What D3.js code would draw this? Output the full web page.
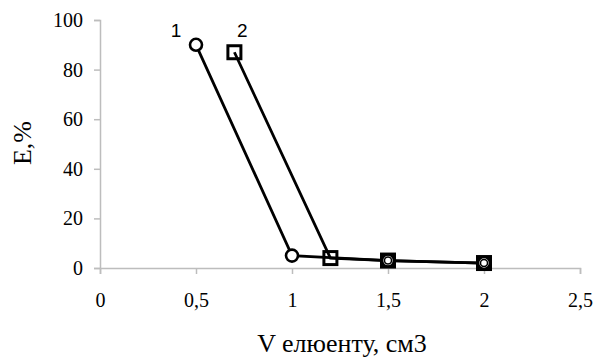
<!DOCTYPE html>
<html>
<head>
<meta charset="utf-8">
<script src="https://cdn.jsdelivr.net/npm/d3@7"></script>
<style>
  body { margin: 0; background: #fff; }
  svg text { font-family: "Liberation Serif", "Times New Roman", serif; fill: #000; }
  .tick text { font-family: "Liberation Serif", serif !important; font-size: 20px !important; }
  .lbl { font-family: "Liberation Sans", Arial, sans-serif !important; font-size: 19px; }
</style>
</head>
<body>
<svg id="chart" width="596" height="358"></svg>
<script>
// data
var xTicks = [0, 0.5, 1, 1.5, 2, 2.5];
var yTicks = [0, 20, 40, 60, 80, 100];
var series1X = [0.5, 1, 1.5, 2];
var series1Y = [90, 5, 3, 2];
var series2X = [0.7, 1.2, 1.5, 2];
var series2Y = [87, 4, 3, 2];
var seriesNames = ["1", "2"];

var svg = d3.select("#chart");
var x = d3.scaleLinear().domain([0, 2.5]).range([100, 580]);
var y = d3.scaleLinear().domain([0, 100]).range([268, 20]);
var fmt = function(d) { return String(d).replace(".", ","); };

// y axis
var yAxis = svg.append("g")
  .attr("transform", "translate(100,0)")
  .call(d3.axisLeft(y).tickValues(yTicks).tickSize(6).tickPadding(11));

// x axis
var xAxis = svg.append("g")
  .attr("transform", "translate(0,268)")
  .call(d3.axisBottom(x).tickValues(xTicks).tickFormat(fmt).tickSize(6).tickPadding(19));

yAxis.attr("font-family", "Liberation Serif").attr("font-size", 20);
xAxis.attr("font-family", "Liberation Serif").attr("font-size", 20);
svg.selectAll(".tick text").attr("fill", "#000");

svg.selectAll(".domain, .tick line").attr("stroke", "#bdbdbd").attr("stroke-width", 1.5);

// titles
svg.append("text")
  .attr("transform", "translate(31,143) rotate(-90)")
  .attr("text-anchor", "middle")
  .style("font-size", "26px")
  .text("E,%");
svg.append("text")
  .attr("x", 342).attr("y", 352)
  .attr("text-anchor", "middle")
  .style("font-size", "26px")
  .text("V елюенту, см3");

var line = d3.line().x(function(d) { return x(d[0]); }).y(function(d) { return y(d[1]); });
var pts1 = series1X.map(function(v, i) { return [v, series1Y[i]]; });
var pts2 = series2X.map(function(v, i) { return [v, series2Y[i]]; });

[pts1, pts2].forEach(function(pts) {
  svg.append("path")
    .attr("d", line(pts))
    .attr("fill", "none")
    .attr("stroke", "#000")
    .attr("stroke-width", 2.8);
});

// markers
svg.selectAll("circle.s1")
  .data(pts1)
  .enter()
  .append("circle")
  .attr("cx", function(d) { return x(d[0]); })
  .attr("cy", function(d) { return y(d[1]); })
  .attr("r", 6)
  .attr("fill", "#fff")
  .attr("stroke", "#000")
  .attr("stroke-width", 2.6);

svg.selectAll("rect.s2")
  .data(pts2)
  .enter()
  .append("rect")
  .attr("x", function(d) { return x(d[0]) - 6.5; })
  .attr("y", function(d) { return y(d[1]) - 6.5; })
  .attr("width", 13)
  .attr("height", 13)
  .attr("fill", "none")
  .attr("stroke", "#000")
  .attr("stroke-width", 3);

// circle inside squares where the series overlap
svg.selectAll("circle.s1b")
  .data(pts1.filter(function(d) { return d[0] >= 1.5; }))
  .enter()
  .append("circle")
  .attr("cx", function(d) { return x(d[0]); })
  .attr("cy", function(d) { return y(d[1]); })
  .attr("r", 3.5)
  .attr("fill", "#fff")
  .attr("stroke", "#000")
  .attr("stroke-width", 1.5);

// series labels
var labelDx = [-20, 8];
svg.selectAll("text.lbl")
  .data([pts1[0], pts2[0]])
  .enter()
  .append("text")
  .attr("class", "lbl")
  .attr("x", function(d, i) { return x(d[0]) + labelDx[i]; })
  .attr("y", 37)
  .attr("text-anchor", "middle")
  .text(function(d, i) { return seriesNames[i]; });
</script>
</body>
</html>
